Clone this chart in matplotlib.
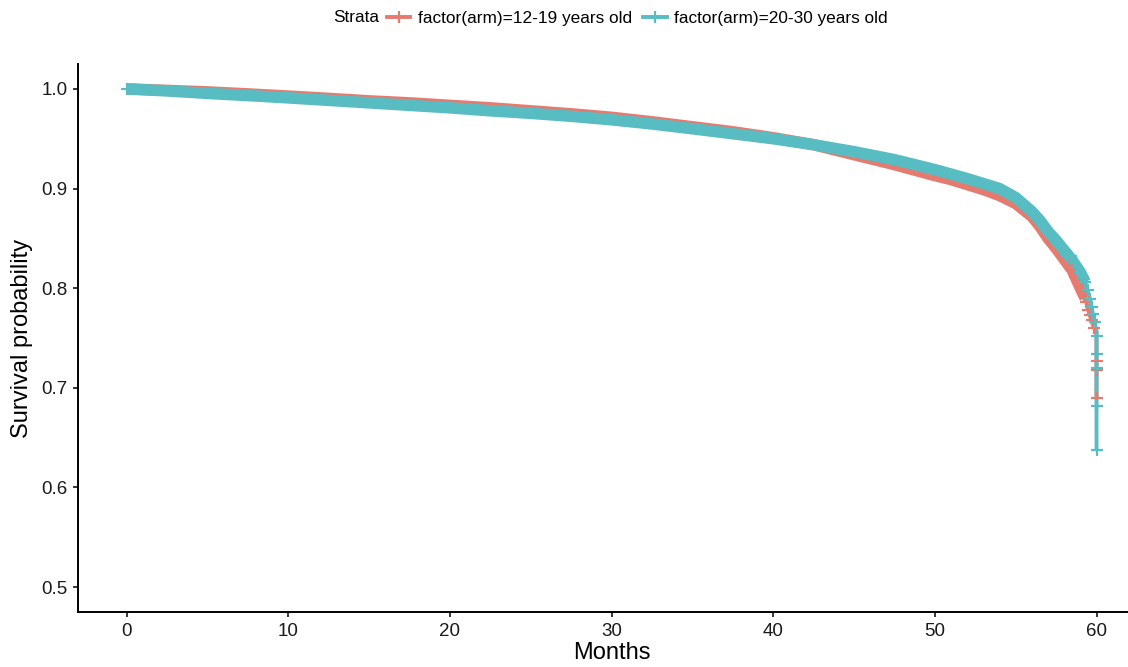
import matplotlib
matplotlib.use("Agg")
import matplotlib.pyplot as plt
from matplotlib.lines import Line2D
import numpy as np

plt.rcParams['font.family'] = ['Liberation Sans', 'DejaVu Sans']

# ---------------- data ----------------
groups = ["factor(arm)=12-19 years old", "factor(arm)=20-30 years old"]
colors = ["#E67A6F", "#58BDC2"]

# survival curve, group 12-19
t_a = [0, 2.5, 5, 7.5, 10, 12.5, 15, 17.5, 20, 22.5, 25, 27.5, 30, 32.5, 35, 37.5, 40, 42.5, 45, 47.5,
       50, 51, 52, 53, 54, 55, 56, 56.5, 57, 57.5, 58, 58.5, 59, 59.3, 59.6, 59.8, 60, 60]
s_a = [1.000, 0.9985, 0.997, 0.995, 0.9928, 0.9905, 0.988, 0.986, 0.9835, 0.981, 0.978, 0.975, 0.9715,
       0.967, 0.962, 0.957, 0.951, 0.944, 0.934, 0.924, 0.913, 0.909, 0.904, 0.899, 0.893, 0.885, 0.872,
       0.862, 0.850, 0.840, 0.829, 0.818, 0.800, 0.790, 0.772, 0.762, 0.756, 0.690]
# survival curve, group 20-30
t_b = [0, 2.5, 5, 7.5, 10, 12.5, 15, 17.5, 20, 22.5, 25, 27.5, 30, 32.5, 35, 37.5, 40, 42.5, 45, 47.5,
       50, 51, 52, 53, 54, 55, 56, 56.5, 57, 57.5, 58, 58.5, 59, 59.3, 59.6, 59.8, 60, 60]
s_b = [1.000, 0.998, 0.9955, 0.9933, 0.991, 0.9885, 0.986, 0.9835, 0.981, 0.978, 0.9755, 0.9725, 0.969,
       0.9648, 0.960, 0.955, 0.950, 0.944, 0.937, 0.929, 0.919, 0.9145, 0.910, 0.905, 0.900, 0.891, 0.877,
       0.868, 0.857, 0.848, 0.838, 0.828, 0.816, 0.806, 0.789, 0.772, 0.757, 0.638]

# censoring marks near the end
ct_a = [58.3, 58.5, 58.7, 58.9, 59.1, 59.2, 59.35, 59.5, 59.6, 59.7, 59.85, 60, 60, 60]
cs_a = [0.822, 0.818, 0.811, 0.803, 0.797, 0.792, 0.786, 0.778, 0.773, 0.768, 0.760, 0.727, 0.718, 0.690]
ct_b = [0, 58.4, 58.6, 58.8, 59.0, 59.15, 59.3, 59.45, 59.6, 59.7, 59.8, 59.9, 60, 60, 60, 60, 60]
cs_b = [1.000, 0.832, 0.826, 0.821, 0.816, 0.811, 0.806, 0.798, 0.789, 0.781, 0.774, 0.766, 0.752,
        0.734, 0.720, 0.682, 0.638]

# limit of the dense censoring band
band_end = 59.3

x_ticks = [0, 10, 20, 30, 40, 50, 60]
y_ticks = [0.5, 0.6, 0.7, 0.8, 0.9, 1.0]

# ---------------- figure ----------------
fig = plt.figure(figsize=(11.28, 6.67), dpi=100)
ax = fig.add_axes([78 / 1128, 55 / 667, (1145 - 78) / 1128, (603 - 55) / 667])

curves = [(t_a, s_a, ct_a, cs_a), (t_b, s_b, ct_b, cs_b)]
for (t, s, ct, cs), col in zip(curves, colors):
    t = np.array(t)
    s = np.array(s)
    m = t <= band_end
    ax.plot(t[m], s[m], color=col, lw=8.3, solid_capstyle='butt', solid_joinstyle='round', zorder=2)
    ax.plot(t, s, color=col, lw=2.8, solid_capstyle='butt', zorder=2)
    ax.plot(ct, cs, ls='none', marker='+', ms=8, mew=1.6, color=col, zorder=3)

ax.set_xlim(-3, 63)
ax.set_ylim(0.475, 1.025)
ax.set_xticks(x_ticks)
ax.set_xticklabels([str(v) for v in x_ticks])
ax.set_yticks(y_ticks)
ax.set_yticklabels([f"{v:.1f}" for v in y_ticks])
ax.tick_params(axis='both', labelsize=13.5, length=5 / 1.389, width=1.1, color='black',
               labelcolor='#1a1a1a', direction='out', pad=4)

for side in ['top', 'right']:
    ax.spines[side].set_visible(False)
for side in ['left', 'bottom']:
    ax.spines[side].set_linewidth(1.4)
    ax.spines[side].set_color('black')

ax.set_xlabel("Months", fontsize=17, labelpad=2)
ax.set_ylabel("Survival probability", fontsize=17, labelpad=6)

# legend on top
fig.text(333 / 1128, 1 - 18 / 667, "Strata", fontsize=12.4, ha='left', va='center')
handles = [Line2D([0], [0], color=c, lw=2.8, marker='+', ms=9, mew=1.6) for c in colors]
fig.legend(handles, groups, loc='center left', bbox_to_anchor=(387 / 1128, 1 - 18 / 667),
           ncol=2, frameon=False, fontsize=12.4, handlelength=1.35, handletextpad=0.45,
           columnspacing=0.65, borderpad=0, borderaxespad=0)

fig.savefig("out.png", dpi=100)
